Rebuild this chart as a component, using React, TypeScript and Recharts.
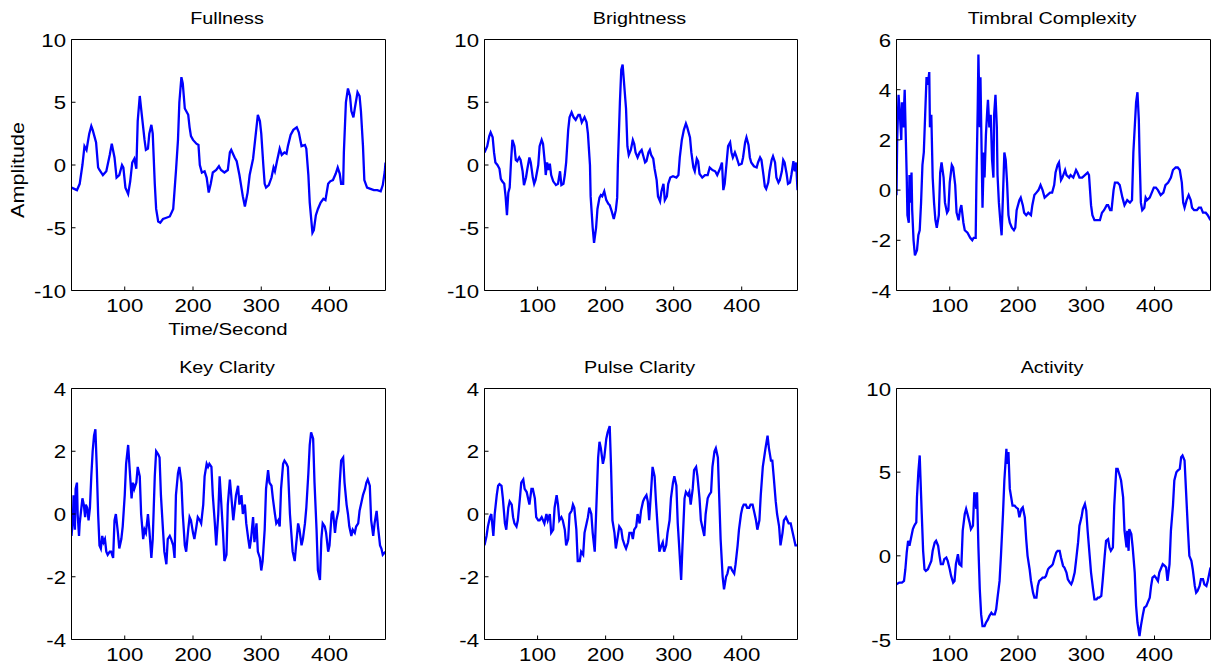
import React from "react";
import { LineChart, Line, XAxis, YAxis } from "recharts";

type Pt = [number, number];

const timeDomain: [number, number] = [22, 482];
const timeTicks = [100, 200, 300, 400];

const fullnessTicks = [-10, -5, 0, 5, 10];
const brightnessTicks = [-10, -5, 0, 5, 10];
const timbralTicks = [-4, -2, 0, 2, 4, 6];
const keyTicks = [-4, -2, 0, 2, 4];
const pulseTicks = [-4, -2, 0, 2, 4];
const activityTicks = [-5, 0, 5, 10];

// [time (s), amplitude]
const fullness: Pt[] = [
  [22, -1.8], [30, -2], [34, -1.5], [38, 0], [41, 1.5], [44, 1.2], [48, 2.5], [51, 3.1], [53, 2.8], [56, 2.2],
  [58, 1.8], [61, -0.2], [63, -0.4], [68, -0.8], [73, -0.5], [78, 0.8], [81, 1.7], [85, 0.6], [88, -1.0], [92, -0.8],
  [96, 0], [98, -0.2], [101, -1.8], [105, -2.3], [108, -1.3], [111, 0.2], [114, 0.5], [117, -0.3], [119, 3.5], [122, 5.5],
  [124, 4.5], [127, 3], [129, 2], [131, 1.2], [134, 1.3], [136, 2.5], [139, 3.2], [141, 2.5], [144, -1.5], [146, -3.5],
  [149, -4.5], [152, -4.6], [156, -4.3], [161, -4.2], [166, -4.1], [171, -3.5], [173, -2], [175, -0.5], [178, 2], [180, 5],
  [183, 7], [185, 6.5], [188, 4.5], [190, 4.3], [193, 4], [195, 3], [197, 2.3], [200, 2], [205, 1.7], [208, 1.6],
  [210, 0], [213, -0.6], [217, -0.5], [220, -1], [223, -2.2], [226, -1.5], [229, -0.6], [234, -0.4], [238, -0.1], [241, -0.4],
  [246, -0.6], [251, -0.4], [254, 1.0], [256, 1.2], [261, 0.6], [264, 0.3], [268, -0.8], [273, -2.5], [276, -3.3], [280, -2.2],
  [283, -0.8], [288, 0.5], [292, 2.5], [295, 4], [298, 3.5], [300, 2.5], [303, 0], [305, -1.5], [307, -1.8], [311, -1.6],
  [315, -1.0], [318, -0.2], [320, -0.5], [323, 0.3], [327, 1.3], [330, 0.8], [334, 1.0], [337, 0.9], [339, 1.5], [343, 2.4],
  [347, 2.8], [352, 3.0], [355, 2.6], [359, 1.5], [364, 1.6], [366, 1.3], [369, -0.8], [371, -3], [375, -5.4], [377, -5.2],
  [380, -4], [383, -3.5], [387, -3], [391, -2.7], [394, -2.8], [398, -1.5], [401, -1.3], [405, -1.2], [409, -0.7], [412, -0.2],
  [415, -0.7], [417, -1.5], [420, -1.5], [421, 1], [424, 5], [427, 6.1], [430, 5.5], [432, 4.3], [435, 3.8], [437, 4.5],
  [441, 5.8], [444, 5.5], [446, 4.3], [449, 1.5], [451, -1.2], [455, -1.8], [460, -1.9], [465, -2], [470, -2.0], [475, -2.1],
  [478, -1.6], [481, -0.5], [482, 0.2],
];

const brightness: Pt[] = [
  [22, 1.0], [26, 1.5], [29, 2.3], [31, 2.6], [34, 2.2], [36, 1], [38, 0.2], [41, 0], [44, -0.3], [46, -1.1],
  [48, -1.3], [51, -1.5], [53, -2.5], [55, -4], [57, -2.2], [59, -1.8], [61, 0.3], [63, 2.0], [66, 1.5], [68, 0.4],
  [70, 0.3], [73, 0.6], [75, 0.4], [78, -0.5], [80, -1.6], [83, -1.0], [85, -0.3], [88, 0.6], [90, 0.2], [93, -1.0],
  [95, -1.5], [97, -1.2], [101, 0], [103, 1.5], [106, 2.0], [108, 1.7], [111, 0], [112, -0.8], [114, 0.2], [116, -0.4],
  [118, 0.1], [120, -0.8], [123, -1.3], [127, -1.6], [130, -1.5], [133, -0.5], [135, -1.6], [138, -1.5], [140, -0.8], [142, 0.2],
  [145, 2.8], [147, 3.8], [150, 4.2], [153, 3.8], [156, 3.6], [160, 4.0], [162, 4.0], [165, 3.4], [167, 3.6], [169, 3.8],
  [172, 3.4], [174, 2.5], [177, 0], [178, -2.5], [181, -5], [183, -6.2], [186, -5], [188, -3.5], [191, -2.6], [193, -2.4],
  [195, -2.5], [198, -2.1], [201, -2.8], [204, -3.1], [206, -3.2], [209, -3.7], [212, -4.3], [215, -3.6], [217, -2.6], [218, 0],
  [221, 5], [223, 7.6], [225, 8.0], [227, 6.6], [230, 4.5], [232, 1.5], [234, 0.8], [237, 1.2], [240, 2.0], [242, 1.7],
  [244, 1.0], [247, 0.6], [250, 1.0], [253, 1.2], [255, 0.8], [258, 0.2], [260, 0.3], [263, 1.0], [265, 1.2], [267, 0.8],
  [270, 0.5], [272, -0.3], [275, -1.2], [277, -2.5], [280, -2.9], [282, -2.1], [285, -1.5], [287, -2.8], [290, -2.5], [292, -1.5],
  [295, -1.0], [299, -0.9], [304, -1.0], [307, -0.8], [309, 0.6], [312, 2.0], [315, 2.8], [318, 3.3], [320, 3.0], [324, 2.2],
  [326, 1.0], [329, -0.2], [331, -0.5], [334, 0.5], [336, 0.3], [338, -0.7], [342, -1.0], [346, -0.8], [350, -0.8], [353, -0.2],
  [357, -0.4], [361, -0.5], [364, -0.8], [368, -0.3], [371, 0.2], [373, -2.0], [375, -1.5], [378, 0.3], [380, 1.5], [383, 1.8],
  [385, 1.0], [387, 0.6], [390, 1.0], [392, 0.7], [396, 0], [400, 0.1], [402, 0.6], [405, 1.8], [407, 2.2], [410, 1.6],
  [412, 0.6], [414, 0.2], [418, -0.1], [422, -0.2], [424, 0.2], [427, 0.6], [429, 0.4], [432, -0.8], [434, -1.7], [436, -1.9],
  [439, -1.4], [441, -0.5], [444, 0.4], [446, 0.7], [449, 0.2], [451, -1.0], [454, -1.4], [456, -1.2], [459, -0.5], [461, 0.4],
  [463, 0.2], [466, -0.7], [468, -1.5], [471, -1.4], [473, -0.8], [476, 0.3], [478, -0.5], [480, 0.2], [482, -2.0],
];

const timbral: Pt[] = [
  [22, -0.2], [23, 2.0], [25, 3.8], [27, 3.0], [29, 2.0], [30, 3.5], [32, 2.5], [34, 4.0], [35, 2.8], [37, 0.5],
  [38, -1.0], [40, -1.3], [41, 0.6], [42, -0.5], [44, 0.7], [45, -0.8], [47, -2.0], [49, -2.6], [52, -2.4], [54, -1.8],
  [56, -1.6], [58, -0.5], [60, 1.0], [62, 1.5], [64, 3.0], [66, 4.5], [68, 4.2], [70, 4.7], [71, 2.5], [73, 3.0],
  [75, 0.5], [77, -0.5], [79, -1.2], [81, -1.5], [84, -1.0], [86, 0.7], [88, 1.1], [91, 0.5], [93, -0.5], [96, -0.9],
  [98, -0.8], [100, 0.3], [103, 1.0], [105, 0.9], [108, 0.2], [110, -0.9], [113, -1.2], [115, -0.8], [117, -0.6], [120, -1.3],
  [122, -1.6], [126, -1.7], [130, -1.9], [133, -2.0], [135, -1.9], [138, -1.9], [139, 0.2], [141, 3.3], [142, 5.4], [144, 2.5],
  [145, 4.5], [147, 1.0], [148, -0.7], [150, 1.5], [151, 0.5], [153, 2.2], [155, 3.2], [156, 3.6], [158, 2.5], [160, 3.0],
  [162, 1.2], [164, 0.5], [165, 3.0], [167, 3.8], [169, 2.5], [170, 0.6], [172, -0.5], [174, -1.2], [176, -1.8], [178, -0.2],
  [180, 1.5], [182, 1.2], [184, 0.3], [186, -1.0], [188, -1.3], [191, -1.5], [194, -1.6], [196, -1.5], [198, -0.8], [202, -0.4],
  [204, -0.3], [207, -0.6], [209, -0.9], [212, -1.0], [215, -0.9], [219, -1.0], [221, -0.6], [224, -0.2], [227, -0.1], [230, 0.0],
  [233, 0.2], [236, 0.0], [239, -0.3], [243, -0.2], [247, -0.1], [250, -0.1], [253, 0.2], [255, 0.7], [258, 1.0], [260, 1.1],
  [263, 0.4], [265, 0.5], [269, 0.8], [271, 0.6], [275, 0.5], [277, 0.6], [281, 0.5], [285, 0.8], [287, 0.7], [290, 0.5],
  [294, 0.5], [298, 0.6], [302, 0.7], [304, 0.6], [307, -0.6], [309, -1.0], [312, -1.2], [316, -1.2], [320, -1.2], [323, -0.9],
  [326, -0.8], [330, -0.6], [332, -0.6], [335, -0.8], [337, -0.8], [340, 0.0], [342, 0.3], [346, 0.3], [349, 0.2], [353, -0.3],
  [356, -0.6], [360, -0.4], [364, -0.5], [367, -0.4], [369, 1.5], [371, 2.5], [373, 3.5], [375, 3.9], [377, 2.8], [378, 1.5],
  [380, -0.5], [382, -0.8], [385, -0.7], [387, -0.3], [389, -0.4], [393, -0.3], [396, -0.1], [399, 0.1], [402, 0.1], [405, 0.0],
  [409, -0.2], [413, -0.1], [416, 0.2], [420, 0.3], [424, 0.5], [427, 0.8], [431, 0.9], [434, 0.9], [437, 0.8], [440, 0.3],
  [442, -0.5], [444, -0.7], [447, -0.4], [450, -0.2], [453, -0.4], [455, -0.7], [458, -0.8], [462, -0.8], [465, -0.7], [468, -0.7],
  [471, -0.9], [475, -0.9], [478, -1.0], [482, -1.2],
];

const keyClarity: Pt[] = [
  [22, -0.7], [24, -0.2], [25, 0.6], [27, -0.5], [28, 0.8], [30, 1.0], [31, 0.0], [33, -0.7], [34, -0.3], [36, 0.1],
  [38, 0.5], [40, 0.3], [42, -0.1], [43, 0.3], [45, 0.2], [47, -0.2], [49, 0.2], [51, 1.2], [53, 2.0], [55, 2.5],
  [57, 2.7], [59, 1.5], [61, 0.0], [63, -1.0], [65, -1.1], [67, -0.7], [69, -0.9], [71, -0.8], [73, -1.2], [75, -1.3],
  [78, -1.2], [80, -1.2], [83, -1.4], [85, -0.2], [87, 0.0], [90, -0.6], [92, -1.1], [95, -0.8], [97, -0.4], [100, 0.6],
  [102, 1.6], [105, 2.2], [107, 1.5], [110, 0.5], [112, 1.0], [114, 0.8], [117, 1.0], [119, 1.5], [122, 1.2], [124, 0.0],
  [127, -0.8], [129, -0.5], [131, -0.6], [134, 0.0], [136, -0.5], [139, -1.4], [141, -0.8], [144, 1.2], [146, 2.0], [149, 1.9],
  [151, 1.8], [153, 0.6], [156, -0.5], [158, -1.2], [161, -1.6], [163, -0.8], [166, -0.7], [168, -0.8], [171, -1.0], [173, -1.4],
  [175, 0.6], [178, 1.3], [180, 1.5], [183, 1.0], [185, 0.0], [188, -1.0], [190, -1.2], [193, -0.5], [195, -0.1], [197, -0.2],
  [200, -0.6], [202, -0.8], [205, -0.4], [207, -0.1], [210, -0.2], [212, -0.3], [215, 0.3], [217, 1.2], [220, 1.6], [222, 1.5],
  [224, 1.6], [227, 1.5], [229, 0.6], [232, -0.3], [234, -1.0], [237, 0.0], [239, 1.2], [241, 0.5], [244, -0.6], [246, -1.5],
  [249, -1.3], [251, 0.3], [254, 1.1], [256, 0.6], [259, -0.2], [261, 0.2], [263, 0.6], [266, 0.9], [268, 0.3], [271, 0.6],
  [273, 0.0], [276, 0.3], [278, -0.3], [281, -0.8], [283, -1.1], [285, -0.8], [288, -0.1], [290, -0.9], [293, -0.3], [295, -1.2],
  [298, -1.4], [300, -1.8], [302, -1.5], [305, -0.5], [307, 0.8], [310, 1.4], [312, 1.0], [315, 0.9], [317, 0.5], [320, 0.0],
  [322, -0.3], [325, -0.2], [327, -0.4], [329, 0.8], [332, 1.6], [334, 1.7], [337, 1.6], [339, 1.5], [342, 0.0], [344, -0.6],
  [346, -1.2], [349, -1.5], [351, -1.0], [354, -0.3], [356, -0.5], [359, -1.0], [361, -0.8], [364, -0.3], [366, 0.2], [369, 1.3],
  [371, 2.2], [373, 2.6], [376, 2.4], [378, 1.0], [381, -0.5], [383, -1.8], [386, -2.1], [388, -0.8], [390, -0.3], [393, -0.4],
  [395, -0.6], [398, -1.2], [400, -1.0], [403, 0.0], [405, 0.1], [408, -0.6], [410, -0.2], [413, 0.1], [415, 1.0], [417, 1.7],
  [420, 1.8], [422, 1.0], [425, 0.3], [427, 0.0], [429, -0.4], [432, -0.7], [434, -0.5], [437, -0.6], [439, -0.4], [442, -0.3],
  [444, 0.1], [447, 0.4], [449, 0.6], [452, 0.8], [454, 1.0], [456, 1.1], [459, 0.9], [461, -0.2], [464, -0.7], [466, -0.3],
  [469, 0.1], [471, -0.4], [474, -1.0], [476, -1.1], [478, -1.3], [482, -1.2],
];

const pulseClarity: Pt[] = [
  [22, -1.0], [25, -0.7], [27, -0.4], [30, -0.1], [32, 0.0], [35, -0.7], [37, 0.0], [40, 0.6], [42, 0.9], [44, 0.95],
  [47, 0.9], [49, 0.5], [52, -0.3], [54, -0.5], [57, 0.2], [59, 0.4], [62, 0.3], [64, -0.1], [66, -0.3], [69, -0.4],
  [71, -0.2], [74, 0.5], [76, 1.0], [79, 1.1], [81, 0.8], [84, 0.7], [86, 0.5], [88, 0.3], [91, 0.8], [93, 0.8],
  [96, 0.5], [98, -0.1], [101, -0.2], [103, -0.2], [106, -0.1], [108, -0.2], [110, -0.3], [113, 0.0], [115, -0.2], [118, 0.0],
  [120, -0.6], [123, -0.5], [125, 0.2], [128, 0.6], [130, 0.3], [132, -0.2], [135, -0.1], [137, -0.2], [140, -0.5], [142, -1.0],
  [145, -0.8], [147, 0.0], [150, 0.1], [152, 0.3], [154, 0.2], [157, -0.5], [159, -1.5], [162, -1.5], [164, -1.2], [167, -1.3],
  [169, -0.6], [172, -0.3], [174, -0.1], [176, 0.2], [179, 0.0], [181, -0.6], [184, -1.2], [186, 0.0], [189, 1.8], [191, 2.3],
  [193, 2.1], [196, 1.6], [198, 1.8], [201, 2.4], [203, 2.6], [206, 2.8], [208, 1.5], [210, -0.2], [213, -0.6], [215, -1.1],
  [218, -0.7], [220, -0.4], [223, -0.5], [225, -0.8], [228, -1.0], [230, -1.1], [233, -0.9], [235, -0.6], [238, -0.6], [240, -0.8],
  [242, -0.5], [245, -0.4], [247, 0.0], [250, -0.3], [252, 0.1], [255, 0.4], [257, 0.5], [260, 0.6], [262, 0.4], [264, -0.2],
  [267, 0.8], [269, 1.5], [272, 1.2], [274, 0.4], [277, -0.6], [279, -1.2], [282, -1.0], [284, -0.9], [286, -1.2], [289, -1.0],
  [291, -0.6], [294, -0.2], [296, 0.5], [299, 1.0], [301, 1.2], [304, 0.9], [306, -0.3], [308, -1.0], [311, -2.1], [313, -1.0],
  [316, 0.5], [318, 0.7], [321, 0.6], [323, 0.7], [325, 0.3], [328, 0.8], [330, 1.4], [333, 1.5], [335, 1.2], [338, 0.5],
  [340, -0.2], [343, -0.5], [345, -0.7], [347, 0.0], [350, 0.5], [352, 0.6], [355, 0.7], [357, 1.5], [360, 2.0], [362, 2.1],
  [365, 1.8], [367, 0.5], [369, -0.8], [372, -2.0], [374, -2.4], [377, -2.0], [379, -1.9], [381, -1.7], [384, -1.7], [386, -1.8],
  [389, -1.9], [391, -1.6], [394, -1.0], [396, -0.5], [399, 0.0], [401, 0.2], [403, 0.3], [406, 0.3], [408, 0.2], [411, 0.2],
  [413, 0.3], [416, 0.3], [418, 0.1], [421, -0.2], [423, -0.5], [426, -0.2], [428, 0.6], [431, 1.5], [433, 1.8], [435, 2.1],
  [438, 2.5], [440, 2.1], [443, 1.7], [445, 1.7], [447, 1.2], [450, 0.4], [452, 0.0], [455, -0.4], [457, -1.0], [460, -0.6],
  [462, -0.2], [465, -0.1], [467, -0.2], [469, -0.3], [472, -0.3], [474, -0.5], [477, -0.8], [479, -1.0], [482, -1.0],
];

const activity: Pt[] = [
  [22, -1.7], [26, -1.6], [30, -1.6], [33, -1.5], [35, -0.8], [37, 0.2], [39, 0.9], [41, 0.6], [43, 1.0], [46, 1.6],
  [48, 1.8], [51, 2.0], [52, 3.5], [54, 5.0], [56, 6.0], [57, 4.8], [59, 2.5], [61, 0.3], [63, -0.8], [65, -0.9],
  [68, -0.8], [70, -0.6], [73, -0.3], [75, 0.3], [78, 0.8], [80, 0.9], [83, 0.6], [85, 0.0], [87, -0.5], [90, -0.5],
  [92, -0.2], [95, -0.1], [97, -0.3], [100, -0.8], [102, -1.2], [105, -1.6], [107, -1.5], [109, -0.5], [112, 0.1], [114, -0.5],
  [117, -0.6], [119, 1.5], [122, 2.5], [124, 2.8], [126, 2.5], [129, 2.0], [131, 1.6], [134, 1.8], [136, 3.8], [139, 2.8],
  [140, 3.8], [142, 0.5], [144, -2.0], [146, -3.5], [148, -4.2], [151, -4.2], [153, -4.0], [156, -3.8], [158, -3.6], [161, -3.4],
  [163, -3.5], [166, -3.5], [168, -3.2], [170, -2.5], [173, -1.5], [175, 0.0], [178, 2.5], [180, 4.5], [183, 6.4], [184, 5.5],
  [186, 6.2], [188, 4.0], [190, 3.5], [192, 3.0], [195, 3.0], [197, 2.9], [200, 2.8], [202, 2.3], [205, 2.8], [207, 2.9],
  [210, 2.3], [212, 1.0], [214, 0.0], [217, -0.8], [219, -1.5], [222, -2.2], [224, -2.5], [227, -2.5], [229, -1.8], [231, -1.5],
  [234, -1.4], [236, -1.3], [239, -1.3], [241, -1.2], [244, -0.8], [246, -0.7], [249, -0.6], [251, -0.5], [253, -0.2], [256, 0.2],
  [258, 0.3], [261, 0.3], [263, -0.1], [266, -0.6], [268, -0.7], [271, -1.0], [273, -1.4], [276, -1.6], [278, -1.7], [280, -1.5],
  [283, -1.0], [285, -0.3], [288, 0.8], [290, 1.8], [293, 2.3], [295, 2.8], [298, 3.1], [300, 2.7], [302, 1.5], [305, 0.0],
  [307, -1.0], [310, -2.0], [312, -2.6], [315, -2.6], [317, -2.5], [319, -2.5], [322, -2.4], [324, -1.5], [327, 0.0], [329, 0.9],
  [332, 1.0], [334, 0.5], [336, 0.3], [339, 0.5], [341, 3.0], [344, 5.2], [346, 5.2], [349, 4.8], [351, 4.5], [354, 3.5],
  [356, 1.5], [359, 0.5], [360, 1.5], [362, 0.3], [363, 1.6], [366, 1.3], [368, 0.5], [371, -1.0], [373, -3.0], [375, -4.0],
  [378, -4.8], [380, -4.2], [383, -3.5], [385, -3.1], [388, -3.0], [390, -2.8], [393, -2.5], [395, -1.8], [397, -1.3], [400, -1.2],
  [402, -1.3], [405, -1.5], [407, -1.0], [410, -0.7], [412, -0.5], [415, -0.6], [417, -0.7], [419, -1.5], [422, -0.5], [424, 1.5],
  [427, 3.0], [429, 4.5], [432, 5.0], [434, 5.1], [437, 5.2], [439, 5.9], [441, 6.0], [444, 5.7], [446, 4.0], [449, 1.5],
  [451, 0.0], [454, -0.3], [456, -0.8], [459, -1.8], [461, -2.2], [463, -2.1], [466, -1.8], [468, -1.4], [471, -1.4], [473, -1.7],
  [476, -1.8], [478, -1.5], [482, -0.7],
];

const FONT = '"Liberation Sans", Arial, Helvetica, sans-serif';
const SX = 1.2; // the original text is drawn a little wide
const BLUE = "#0000ff";

const XTick = (p: any) => (
  <text
    transform={`translate(${p.x},${p.y + 21}) scale(${SX},1)`}
    textAnchor="middle"
    fontSize={18.5}
    fontFamily={FONT}
    fill="#000"
  >
    {p.payload.value}
  </text>
);

const YTick = (p: any) => (
  <text
    transform={`translate(${p.x - 5.5},${p.y + 7}) scale(${SX},1)`}
    textAnchor="end"
    fontSize={18.5}
    fontFamily={FONT}
    fill="#000"
  >
    {p.payload.value}
  </text>
);

type PanelProps = {
  series: Pt[];
  yDomain: [number, number];
  yTicks: number[];
  left: number;
  top: number;
  plotW: number;
};

const PLOT_H = 251;
const AXIS_W = 71.5;
const TOP_M = 39.5;
const BOTTOM_H = 29.5;

function Panel({ series, yDomain, yTicks, left, top, plotW }: PanelProps) {
  const data = series.map(([t, v]) => ({ t, v }));
  return (
    <div style={{ position: "absolute", left, top }}>
      <LineChart
        width={AXIS_W + plotW + 1.5}
        height={TOP_M + PLOT_H + BOTTOM_H}
        data={data}
        margin={{ top: TOP_M - 1, right: 0.5, bottom: 0, left: 0 }}
      >
        <XAxis
          dataKey="t"
          type="number"
          domain={timeDomain}
          ticks={timeTicks}
          allowDataOverflow
          height={BOTTOM_H}
          stroke="#000"
          tickSize={-4}
          tickMargin={4}
          tick={XTick}
        />
        {/* mirrored axes close the box with inward ticks, as in the original */}
        <XAxis
          xAxisId="top"
          orientation="top"
          type="number"
          domain={timeDomain}
          ticks={timeTicks}
          allowDataOverflow
          height={1}
          stroke="#000"
          tickSize={-4}
          tick={false}
        />
        <YAxis
          type="number"
          domain={yDomain}
          ticks={yTicks}
          allowDataOverflow
          width={AXIS_W}
          stroke="#000"
          tickSize={-4}
          tickMargin={4}
          tick={YTick}
        />
        <YAxis
          yAxisId="right"
          orientation="right"
          type="number"
          domain={yDomain}
          ticks={yTicks}
          allowDataOverflow
          width={1}
          stroke="#000"
          tickSize={-4}
          tick={false}
        />
        <Line
          type="linear"
          dataKey="v"
          stroke={BLUE}
          strokeWidth={2.3}
          dot={false}
          isAnimationActive={false}
        />
      </LineChart>
    </div>
  );
}

const cols = [
  { left: 0, plotW: 314 },
  { left: 413, plotW: 313 },
  { left: 825, plotW: 314 },
];
const rows = [0, 349];

const panels = [
  { title: "Fullness", series: fullness, yDomain: [-10, 10] as [number, number], yTicks: fullnessTicks, c: 0, r: 0 },
  { title: "Brightness", series: brightness, yDomain: [-10, 10] as [number, number], yTicks: brightnessTicks, c: 1, r: 0 },
  { title: "Timbral Complexity", series: timbral, yDomain: [-4, 6] as [number, number], yTicks: timbralTicks, c: 2, r: 0 },
  { title: "Key Clarity", series: keyClarity, yDomain: [-4, 4] as [number, number], yTicks: keyTicks, c: 0, r: 1 },
  { title: "Pulse Clarity", series: pulseClarity, yDomain: [-4, 4] as [number, number], yTicks: pulseTicks, c: 1, r: 1 },
  { title: "Activity", series: activity, yDomain: [-5, 10] as [number, number], yTicks: activityTicks, c: 2, r: 1 },
];

export default function App() {
  return (
    <div
      style={{
        position: "absolute",
        left: 0,
        top: 0,
        width: 1213,
        height: 669,
        background: "#fff",
        overflow: "hidden",
      }}
    >
      {panels.map((p) => (
        <Panel
          key={p.title}
          series={p.series}
          yDomain={p.yDomain}
          yTicks={p.yTicks}
          left={cols[p.c].left}
          top={rows[p.r]}
          plotW={cols[p.c].plotW}
        />
      ))}
      <svg
        width={1213}
        height={669}
        style={{ position: "absolute", left: 0, top: 0, pointerEvents: "none" }}
      >
        {panels.map((p) => {
          const cx = cols[p.c].left + AXIS_W + cols[p.c].plotW / 2 - 1.5;
          const y = rows[p.r] + TOP_M - 15.5;
          return (
            <text
              key={p.title}
              transform={`translate(${cx},${y}) scale(${SX},1)`}
              textAnchor="middle"
              fontSize={16.5}
              fontFamily={FONT}
              fill="#000"
            >
              {p.title}
            </text>
          );
        })}
        <text
          transform={`translate(228,335) scale(${SX},1)`}
          textAnchor="middle"
          fontSize={17}
          fontFamily={FONT}
          fill="#000"
        >
          Time/Second
        </text>
        <text
          transform={`translate(24,170) rotate(-90) scale(${SX},1)`}
          textAnchor="middle"
          fontSize={18}
          fontFamily={FONT}
          fill="#000"
        >
          Amplitude
        </text>
      </svg>
    </div>
  );
}
